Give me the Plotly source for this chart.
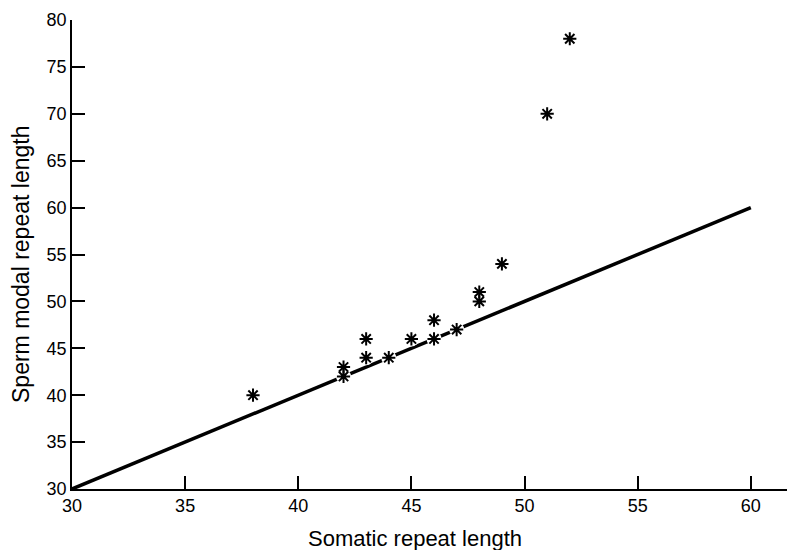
import plotly.graph_objects as go

somatic = [38, 42, 42, 43, 43, 44, 45, 46, 46, 47, 48, 48, 49, 51, 52]
sperm = [40, 43, 42, 46, 44, 44, 46, 48, 46, 47, 51, 50, 54, 70, 78]

line_x = [30, 60]
line_y = [30, 60]

x_ticks = [30, 35, 40, 45, 50, 55, 60]
y_ticks = [30, 35, 40, 45, 50, 55, 60, 65, 70, 75, 80]

font = "Liberation Sans, Arial, sans-serif"

fig = go.Figure()

fig.add_trace(go.Scatter(
    x=line_x, y=line_y, mode="lines",
    line=dict(color="black", width=3.5),
    hoverinfo="skip",
))

# white halo so the line breaks around the asterisks
fig.add_trace(go.Scatter(
    x=somatic, y=sperm, mode="markers",
    marker=dict(symbol="circle", size=15, color="white", line=dict(width=0)),
    hoverinfo="skip",
))

fig.add_trace(go.Scatter(
    x=somatic, y=sperm, mode="markers",
    marker=dict(symbol="asterisk-open", size=11, color="black",
                line=dict(color="black", width=2)),
))

# pixel positions of the plot area
left, right, top, bottom = 72, 787, 20, 489
w_plot = right - left
h_plot = bottom - top

fig.update_layout(
    width=787, height=550,
    margin=dict(l=left, r=787 - right, t=top, b=550 - bottom, autoexpand=False),
    paper_bgcolor="white", plot_bgcolor="white",
    showlegend=False,
    font=dict(family=font, color="black", size=18),
    xaxis=dict(
        range=[30, 61.6], tickvals=x_ticks,
        ticks="inside", ticklen=13, tickwidth=1.5, tickcolor="black",
        showline=True, linecolor="black", linewidth=1.5,
        showgrid=False, zeroline=False, automargin=False,
        tickfont=dict(size=18),
    ),
    yaxis=dict(
        range=[30, 80], tickvals=y_ticks,
        ticks="inside", ticklen=13, tickwidth=1.5, tickcolor="black",
        showline=True, linecolor="black", linewidth=1.5,
        showgrid=False, zeroline=False, automargin=False,
        tickfont=dict(size=18),
    ),
    annotations=[
        dict(text="Somatic repeat length", xref="paper", yref="paper",
             x=(415 - left) / w_plot, y=-(538 - bottom) / h_plot,
             xanchor="center", yanchor="middle",
             showarrow=False, font=dict(size=22)),
        dict(text="Sperm modal repeat length", xref="paper", yref="paper",
             x=(21 - left) / w_plot, y=(bottom - 265) / h_plot,
             xanchor="center", yanchor="middle", textangle=-90,
             showarrow=False, font=dict(size=23)),
    ],
)

fig.write_html("out.html", config={"displayModeBar": False},
               post_script="document.body.style.margin='0';")
